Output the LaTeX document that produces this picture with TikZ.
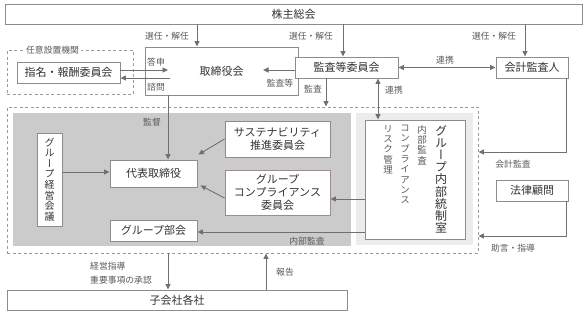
\documentclass[tikz,border=0pt]{standalone}
\usepackage{fontspec}
\setmainfont{Noto Sans CJK JP}
\newfontfamily\tate[RawFeature=+vert]{Noto Sans CJK JP}
\usetikzlibrary{arrows.meta, positioning}

\definecolor{linegray}{HTML}{707070}
\definecolor{boxgray}{HTML}{8C8C8C}
\definecolor{textgray}{HTML}{333333}
\definecolor{labelgray}{HTML}{5A5A5A}
\definecolor{darkbg}{HTML}{CBCBCB}
\definecolor{lightbg}{HTML}{ECECEC}
\definecolor{dashgray}{HTML}{9A9A9A}
\definecolor{mauve}{HTML}{9A8A9A}

\tikzset{
  box/.style={draw=boxgray, fill=white, line width=0.9pt, text=textgray, font=\fontsize{11}{13}\selectfont, inner sep=0pt, align=center},
  lbl/.style={text=labelgray, font=\fontsize{8.8}{13.5}\selectfont, inner sep=1pt},
  arr/.style={draw=linegray, line width=0.9pt, -{Triangle[length=5.5pt,width=5pt]}},
  arr2/.style={draw=linegray, line width=0.9pt, {Triangle[length=5.5pt,width=5pt]}-{Triangle[length=5.5pt,width=5pt]}},
  dashbox/.style={draw=dashgray, line width=0.9pt, dash pattern=on 3pt off 2.5pt, inner sep=0pt},
}

\begin{document}
\begin{tikzpicture}[x=1pt,y=-1pt]
\useasboundingbox (0,0) rectangle (587,316);

% background areas
\node[dashbox, minimum width=471pt, minimum height=146pt] (grp) at (242.5,180) {};
\fill[darkbg] (13,113) rectangle (351,246);
\fill[lightbg] (356,113) rectangle (473,245);
\node[dashbox, minimum width=126pt, minimum height=44pt] (nini) at (70,72) {};
\node[lbl, fill=white, anchor=west, inner sep=2pt] at (24,50) {任意設置機関};

% boxes
\node[box, minimum width=577pt, minimum height=20pt] (kabu) at (293.5,14) {株主総会};
\node[box, minimum width=153pt, minimum height=48pt] (torishimari) at (221.5,71) {取締役会};
\node[box, minimum width=103pt, minimum height=21pt] (shimei) at (68.5,72.5) {指名・報酬委員会};
\node[box, minimum width=103pt, minimum height=21pt] (kansa) at (346.5,67.5) {監査等委員会};
\node[box, minimum width=72pt, minimum height=21pt] (kaikei) at (532,67.5) {会計監査人};
\node[box, minimum width=72pt, minimum height=21pt] (houritsu) at (532,190.5) {法律顧問};
\node[box, minimum width=87pt, minimum height=27pt] (daihyo) at (153.5,173.5) {代表取締役};
\node[box, minimum width=25pt, minimum height=93pt, font=\tate\fontsize{10}{10.6}\selectfont] (keiei) at (49.5,179.5)
  {グ\\ル\\ー\\プ\\経\\営\\会\\議};
\node[box, minimum width=105pt, minimum height=36pt] (sustain) at (277.5,139) {サステナビリティ\\推進委員会};
\node[box, draw=mauve, minimum width=105pt, minimum height=45pt] (comp) at (277.5,192.5) {グループ\\コンプライアンス\\委員会};
\node[box, minimum width=87pt, minimum height=21pt] (bukai) at (153.5,230.5) {グループ部会};
\node[box, minimum width=100pt, minimum height=119pt] (naibu) at (415,179.5) {};
\node[text=textgray, font=\tate\fontsize{12}{12.2}\selectfont, align=center, inner sep=0pt, anchor=north] (naibutitle) at (441,125)
  {グ\\ル\\ー\\プ\\内\\部\\統\\制\\室};
\node[text=labelgray, font=\tate\fontsize{9.5}{10.3}\selectfont, align=center, inner sep=0pt, anchor=north] (naibukansa) at (422,125)
  {内\\部\\監\\査};
\node[text=labelgray, font=\tate\fontsize{9.5}{10.3}\selectfont, align=center, inner sep=0pt, anchor=north] (naibucomp) at (405,125)
  {コ\\ン\\プ\\ラ\\イ\\ア\\ン\\ス};
\node[text=labelgray, font=\tate\fontsize{9.5}{10.3}\selectfont, align=center, inner sep=0pt, anchor=north] (naiburisk) at (388,125)
  {リ\\ス\\ク\\管\\理};
\node[box, minimum width=340pt, minimum height=20pt] (kogaisha) at (177,300) {子会社各社};

% free ends
\coordinate (toshin) at (168,70);
\coordinate (shimon) at (170,78);
\coordinate (kansato) at (263,70);

% connectors
\draw[arr] (kabu.south -| 197,0) -- (torishimari.north -| 197,0);
\node[lbl] at (167,36) {選任・解任};
\draw[arr] (kabu.south -| 343,0) -- (kansa.north -| 343,0);
\node[lbl] at (311,36) {選任・解任};
\draw[arr] (kabu.south -| 525,0) -- (kaikei.north -| 525,0);
\node[lbl] at (494,36) {選任・解任};

\draw[arr] (shimei.east |- toshin) -- (toshin);
\node[lbl] at (156,62) {答申};
\draw[arr] (shimon) -- (shimei.east |- shimon);
\node[lbl] at (156,87) {諮問};

\draw[arr] (kansa.west |- kansato) -- (kansato);
\node[lbl] at (280,83) {監査等};
\draw[arr2] (kansa.east) -- (kaikei.west);
\node[lbl] at (445,60) {連携};
\draw[arr] (kansa.south -| 326,0) -- (grp.north -| 326,0);
\node[lbl] at (313,89) {監査};
\draw[arr2] (kansa.south -| 378,0) -- (naibu.north -| 378,0);
\node[lbl] at (394,90) {連携};

\draw[arr] (torishimari.south -| 168,0) -- (daihyo.north -| 168,0);
\node[lbl] at (152,122) {監督};
\draw[arr] (keiei.east |- 0,172) -- (daihyo.west |- 0,172);
\draw[arr] (sustain.west) -- ([shift={(1,-5)}]daihyo.north east);
\draw[arr] (comp.west |- 0,198) -- ([shift={(3,-2)}]daihyo.south east);
\draw[arr] (naibu.west |- 0,199) -- (comp.east |- 0,199);
\draw[arr] (naibu.west |- 0,232) -- (bukai.east |- 0,232);
\node[lbl] at (307,241) {内部監査};

\draw[arr] (kaikei.south -| 566,0) |- (grp.east |- 0,152);
\node[lbl] at (513,164) {会計監査};
\draw[arr] (houritsu.south -| 566,0) |- (grp.east |- 0,236);
\node[lbl] at (513,248) {助言・指導};

\draw[arr] (grp.south -| 168,0) -- (kogaisha.north -| 168,0);
\node[lbl, align=left, anchor=west] at (89,273) {経営指導\\重要事項の承認};
\draw[arr] (kogaisha.north -| 266,0) -- (grp.south -| 266,0);
\node[lbl] at (285,272) {報告};
\end{tikzpicture}
\end{document}
